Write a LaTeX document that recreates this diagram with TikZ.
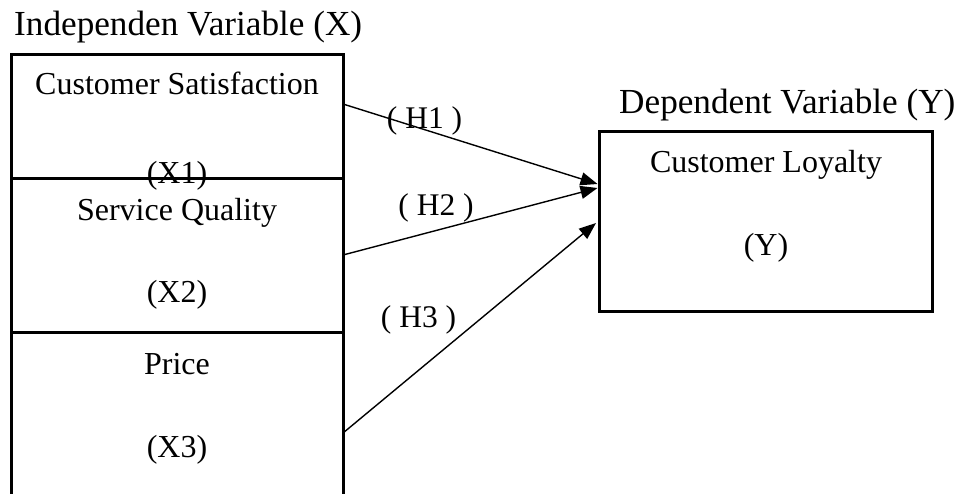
\documentclass[tikz,border=0pt]{standalone}
\usepackage{fontspec}
\setmainfont{Liberation Serif}
\usetikzlibrary{arrows.meta}
\begin{document}
\begin{tikzpicture}[x=1pt,y=-1pt,
  box/.style={draw,line width=3pt,inner sep=0pt},
  txt/.style={anchor=base,inner sep=0pt,font=\fontsize{32}{38}\selectfont},
  ttl/.style={anchor=base west,inner sep=0pt,font=\fontsize{35.2}{42}\selectfont},
  hyp/.style={anchor=base,inner sep=0pt,font=\fontsize{31.5}{36}\selectfont},
  arr/.style={line width=1.4pt,-{Triangle[length=17pt,width=13pt]}}]
\useasboundingbox (0,0) rectangle (957,493);
\clip (0,0) rectangle (957,493);
% titles
\node[ttl] (t1) at (14,35) {Independen Variable (X)};
\node[ttl] (t2) at (619,113) {Dependent Variable (Y)};
% box texts
\node[txt] (cs1) at (177,94) {Customer Satisfaction};
\node[txt] (cs2) at (177,183) {(X1)};
\node[txt] (sq1) at (177,220) {Service Quality};
\node[txt] (sq2) at (177,302) {(X2)};
\node[txt] (pr1) at (177,374) {Price};
\node[txt] (pr2) at (177,457) {(X3)};
\node[txt] (cl1) at (766,172) {Customer Loyalty};
\node[txt] (cl2) at (766,255) {(Y)};
% boxes
\node[box,minimum width=332pt,minimum height=124pt] (cs) at (177,116) {};
\node[box,minimum width=332pt,minimum height=154pt] (sq) at (177,255) {};
\node[box,minimum width=332pt,minimum height=268pt] (pr) at (177,466) {};
\node[box,minimum width=333pt,minimum height=180pt] (cl) at (765.5,221) {};
% connector ends
\coordinate (h1s) at (343,104);
\coordinate (h2s) at (343,255);
\coordinate (h3s) at (343,433);
\coordinate (h1e) at (597.5,184);
\coordinate (h2e) at (597.5,188);
\coordinate (h3e) at (596,223);
\draw[arr] (h1s) -- (h1e);
\draw[arr] (h2s) -- (h2e);
\draw[arr] (h3s) -- (h3e);
% hypothesis labels
\node[hyp] (lh1) at (424.5,128) {( H1 )};
\node[hyp] (lh2) at (436,215) {( H2 )};
\node[hyp] (lh3) at (418.5,327) {( H3 )};
\end{tikzpicture}
\end{document}
